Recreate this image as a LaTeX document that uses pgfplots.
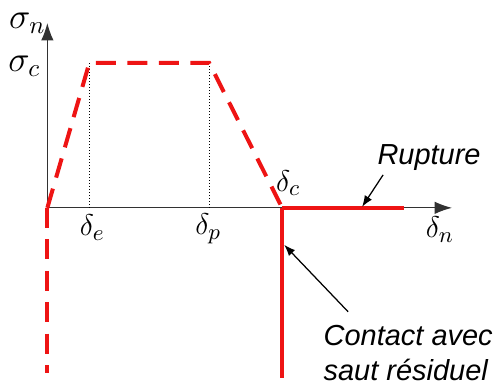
\documentclass[border=0pt]{standalone}
\usepackage{pgfplots}
\pgfplotsset{compat=1.18}
\usepackage{fontspec}
\setsansfont{Liberation Sans}
\usetikzlibrary{arrows.meta}

\definecolor{lawred}{RGB}{238,20,20}
\definecolor{axisgray}{RGB}{50,50,50}

\newcommand{\lbl}{\fontsize{12.5}{14}\selectfont}
\newcommand{\lblbig}{\fontsize{14.5}{16}\selectfont}
\newcommand{\txt}{\fontsize{11.6}{13.6}\selectfont\sffamily\itshape}

\begin{document}
\begin{tikzpicture}
\begin{axis}[
  scale only axis,
  width=199.6pt, height=153.2pt,
  xmin=-47, xmax=452, ymin=-175, ymax=208,
  hide axis, clip=false,
]
% bounding frame of the drawing
\path (axis cs:-47,-175) rectangle (axis cs:452,208);

% axes
\addplot[axisgray, line width=0.45pt, -{Latex[length=7pt,width=5pt]}]
  coordinates {(0,0) (405,0)};
\addplot[axisgray, line width=0.45pt, -{Latex[length=7pt,width=5pt]}]
  coordinates {(0,0) (0,185)};

% guide lines at delta_e and delta_p
\addplot[black, line width=0.35pt, dash pattern=on 0.4pt off 0.8pt] coordinates {(42,0) (42,145)};
\addplot[black, line width=0.35pt, dash pattern=on 0.4pt off 0.8pt] coordinates {(162,0) (162,145)};

% cohesive traction-separation law (dashed)
\addplot[lawred, line width=1.6pt, dash pattern=on 8pt off 4.6pt]
  coordinates {(0,0) (42,145) (162,145) (235,0)};
% contact, closed interface (dashed)
\addplot[lawred, line width=1.6pt, dash pattern=on 8pt off 4.6pt]
  coordinates {(0,0) (0,-165)};

% rupture branch and contact with residual gap (solid)
\addplot[lawred, line width=1.6pt] coordinates {(235,0) (357,0)};
\addplot[lawred, line width=1.6pt] coordinates {(235,0) (235,-170)};

% labels
\node at (axis cs:-20,185) {\lblbig$\sigma_n$};
\node at (axis cs:-23,142) {\lblbig$\sigma_c$};
\node at (axis cs:45,-20) {\lbl$\delta_e$};
\node at (axis cs:161,-21) {\lbl$\delta_p$};
\node at (axis cs:393,-22) {\lbl$\delta_n$};
\node at (axis cs:241,25) {\lbl$\delta_c$};

% annotations
\node at (axis cs:382,50) {\txt Rupture};
\draw[black, line width=0.5pt, -{Latex[length=4.5pt,width=3.4pt]}]
  (axis cs:336,33) -- (axis cs:315,1);
\node[anchor=west, align=left, inner sep=0pt] at (axis cs:276,-128) {\txt Contact avec};
\node[anchor=west, align=left, inner sep=0pt] at (axis cs:276,-162) {\txt saut r\'esiduel};
\draw[black, line width=0.5pt, -{Latex[length=4.5pt,width=3.4pt]}]
  (axis cs:301,-104) -- (axis cs:237,-37);
\end{axis}
\end{tikzpicture}
\end{document}
